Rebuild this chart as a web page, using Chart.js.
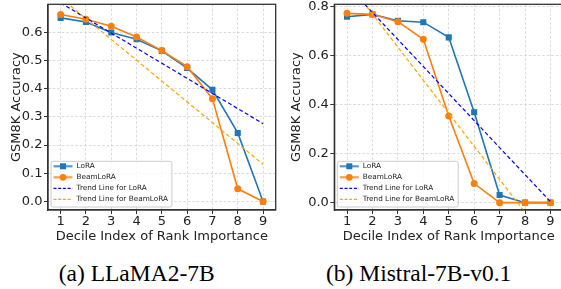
<!DOCTYPE html>
<html>
<head>
<meta charset="utf-8">
<script src="https://cdn.jsdelivr.net/npm/chart.js@4.4.1/dist/chart.umd.min.js"></script>
<style>
body { margin: 0; width: 561px; height: 289px; overflow: hidden; background: #fff; position: relative; }
canvas { position: absolute; top: 0; }
#llama { left: 0; }
#mistral { left: 280px; }
.cap { position: absolute; top: 262px; font: 23.5px/23.5px "Liberation Serif", serif; color: #000; white-space: nowrap; transform: translateX(-50%); }
</style>
</head>
<body>
<canvas id="llama" width="280" height="250"></canvas>
<canvas id="mistral" width="300" height="250"></canvas>
<div class="cap" style="left:136.7px">(a) LLaMA2-7B</div>
<div class="cap" style="left:418.7px">(b) Mistral-7B-v0.1</div>
<script>
// decile index on x, GSM8K accuracy on y
const deciles = [1, 2, 3, 4, 5, 6, 7, 8, 9];
const trendX = [1, 9];

const llamaLora = [0.651, 0.636, 0.599, 0.575, 0.534, 0.473, 0.396, 0.243, 0.0];
const llamaBeam = [0.663, 0.646, 0.621, 0.583, 0.535, 0.478, 0.364, 0.045, 0.0];
const llamaTrendLora = [0.704, 0.276];
const llamaTrendBeam = [0.722, 0.132];
const llamaYTicks = [0, 0.1, 0.2, 0.3, 0.4, 0.5, 0.6];

const mistralLora = [0.759, 0.769, 0.743, 0.737, 0.675, 0.369, 0.031, 0.0, 0.0];
const mistralBeam = [0.773, 0.769, 0.739, 0.667, 0.354, 0.078, 0.0, 0.0, 0.0];
const mistralTrendLora = [0.887, 0.004];
const mistralTrendBeam = [0.905, -0.175];
const mistralYTicks = [0, 0.2, 0.4, 0.6, 0.8];

Chart.defaults.font.family = "'DejaVu Sans', sans-serif";
Chart.defaults.color = '#222';

// box around the axes + matplotlib-like legend in lower left
const frameAndLegend = {
    id: 'frameAndLegend',
    afterDatasetsDraw(chart) {
        const ctx = chart.ctx;
        const a = chart.chartArea;
        ctx.save();
        ctx.strokeStyle = '#333';
        ctx.lineWidth = 1.3;
        ctx.strokeRect(a.left, a.top, a.right - a.left, a.bottom - a.top);

        ctx.font = "7.3px 'DejaVu Sans'";
        const sets = chart.data.datasets;
        let textW = 0;
        sets.forEach(d => { textW = Math.max(textW, ctx.measureText(d.label).width); });
        const w = 25.5 + textW + 4;
        const h = 45.7;
        const x0 = a.left + 3;
        const y0 = a.bottom - 3 - h;
        ctx.beginPath();
        if (ctx.roundRect) ctx.roundRect(x0, y0, w, h, 2); else ctx.rect(x0, y0, w, h);
        ctx.fillStyle = 'rgba(255,255,255,0.8)';
        ctx.fill();
        ctx.strokeStyle = '#cccccc';
        ctx.lineWidth = 1;
        ctx.stroke();

        sets.forEach((d, i) => {
            const y = y0 + 5 + i * 11;
            ctx.strokeStyle = d.borderColor;
            ctx.lineWidth = d.pointRadius > 0 ? 2.2 : d.borderWidth;
            ctx.globalAlpha = d.pointRadius > 0 ? 0.75 : 1;
            ctx.setLineDash(d.borderDash ? [3, 1.7] : []);
            ctx.beginPath();
            ctx.moveTo(x0 + 2.5, y);
            ctx.lineTo(x0 + 21.5, y);
            ctx.stroke();
            ctx.setLineDash([]);
            ctx.globalAlpha = 1;
            if (d.pointRadius > 0) {
                ctx.fillStyle = d.backgroundColor;
                ctx.beginPath();
                if (d.pointStyle === 'rect') {
                    ctx.rect(x0 + 12 - 3, y - 3, 6, 6);
                } else {
                    ctx.arc(x0 + 12, y, 3.4, 0, Math.PI * 2);
                }
                ctx.fill();
            }
            ctx.fillStyle = '#222';
            ctx.textBaseline = 'middle';
            ctx.fillText(d.label, x0 + 25.5, y);
        });
        ctx.restore();
    }
};

function pts(xs, ys) {
    return xs.map((x, i) => ({ x: x, y: ys[i] }));
}

function makeChart(id, lora, beam, trendLora, trendBeam, yTicks, yMin, yMax, yWidth, pad) {
    const config = {
        type: 'line',
        data: {
            datasets: [{
                label: 'LoRA',
                data: pts(deciles, lora),
                borderColor: '#1f77b4',
                backgroundColor: '#1f77b4',
                borderWidth: 1.6,
                pointStyle: 'rect',
                pointRadius: 4.3,
                pointBorderWidth: 0,
                order: 4
            }, {
                label: 'BeamLoRA',
                data: pts(deciles, beam),
                borderColor: '#ff7f0e',
                backgroundColor: '#ff7f0e',
                borderWidth: 1.6,
                pointStyle: 'circle',
                pointRadius: 3.5,
                pointBorderWidth: 0,
                order: 3
            }, {
                label: 'Trend Line for LoRA',
                data: pts(trendX, trendLora),
                borderColor: '#0000ff',
                borderWidth: 1.2,
                borderDash: [4, 2.5],
                pointRadius: 0,
                order: 2
            }, {
                label: 'Trend Line for BeamLoRA',
                data: pts(trendX, trendBeam),
                borderColor: '#ffa500',
                borderWidth: 1.2,
                borderDash: [4, 2.5],
                pointRadius: 0,
                order: 1
            }]
        },
        options: {
            responsive: false,
            animation: false,
            layout: { padding: pad },
            plugins: {
                legend: { display: false },
                tooltip: { enabled: false }
            },
            scales: {
                x: {
                    type: 'linear',
                    min: 0.5,
                    max: 9.5,
                    afterBuildTicks: scale => { scale.ticks = deciles.map(v => ({ value: v })); },
                    afterFit: scale => { scale.height = 40; scale.paddingLeft = 0; scale.paddingRight = 0; },
                    grid: { color: '#d0d0d0', lineWidth: 0.8, tickColor: '#333', tickLength: 4, tickWidth: 1 },
                    border: { color: '#333', width: 1.3, dash: [2.5, 2] },
                    ticks: { font: { size: 13 }, padding: 0, maxRotation: 0, callback: v => String(v) },
                    title: { display: true, text: 'Decile Index of Rank Importance', font: { size: 13 }, padding: { top: 0, bottom: 5.5 } }
                },
                y: {
                    min: yMin,
                    max: yMax,
                    afterBuildTicks: scale => { scale.ticks = yTicks.map(v => ({ value: v })); },
                    afterFit: scale => { scale.width = yWidth; scale.paddingTop = 0; scale.paddingBottom = 0; },
                    grid: { color: '#d0d0d0', lineWidth: 0.8, tickColor: '#333', tickLength: 4, tickWidth: 1 },
                    border: { color: '#333', width: 1.3, dash: [2.5, 2] },
                    ticks: { font: { size: 13 }, padding: 1.5, callback: v => v.toFixed(1) },
                    title: { display: true, text: 'GSM8K Accuracy', font: { size: 13 }, padding: { top: 9, bottom: 0 } }
                }
            }
        },
        plugins: [frameAndLegend]
    };
    return new Chart(document.getElementById(id), config);
}

makeChart('llama', llamaLora, llamaBeam, llamaTrendLora, llamaTrendBeam, llamaYTicks,
    -0.03, 0.699, 48, { top: 3.3, right: 3, bottom: 0, left: 0 });
makeChart('mistral', mistralLora, mistralBeam, mistralTrendLora, mistralTrendBeam, mistralYTicks,
    -0.03, 0.81, 54.3, { top: 4.3, right: 16.8, bottom: 0, left: 0 });
</script>
</body>
</html>
